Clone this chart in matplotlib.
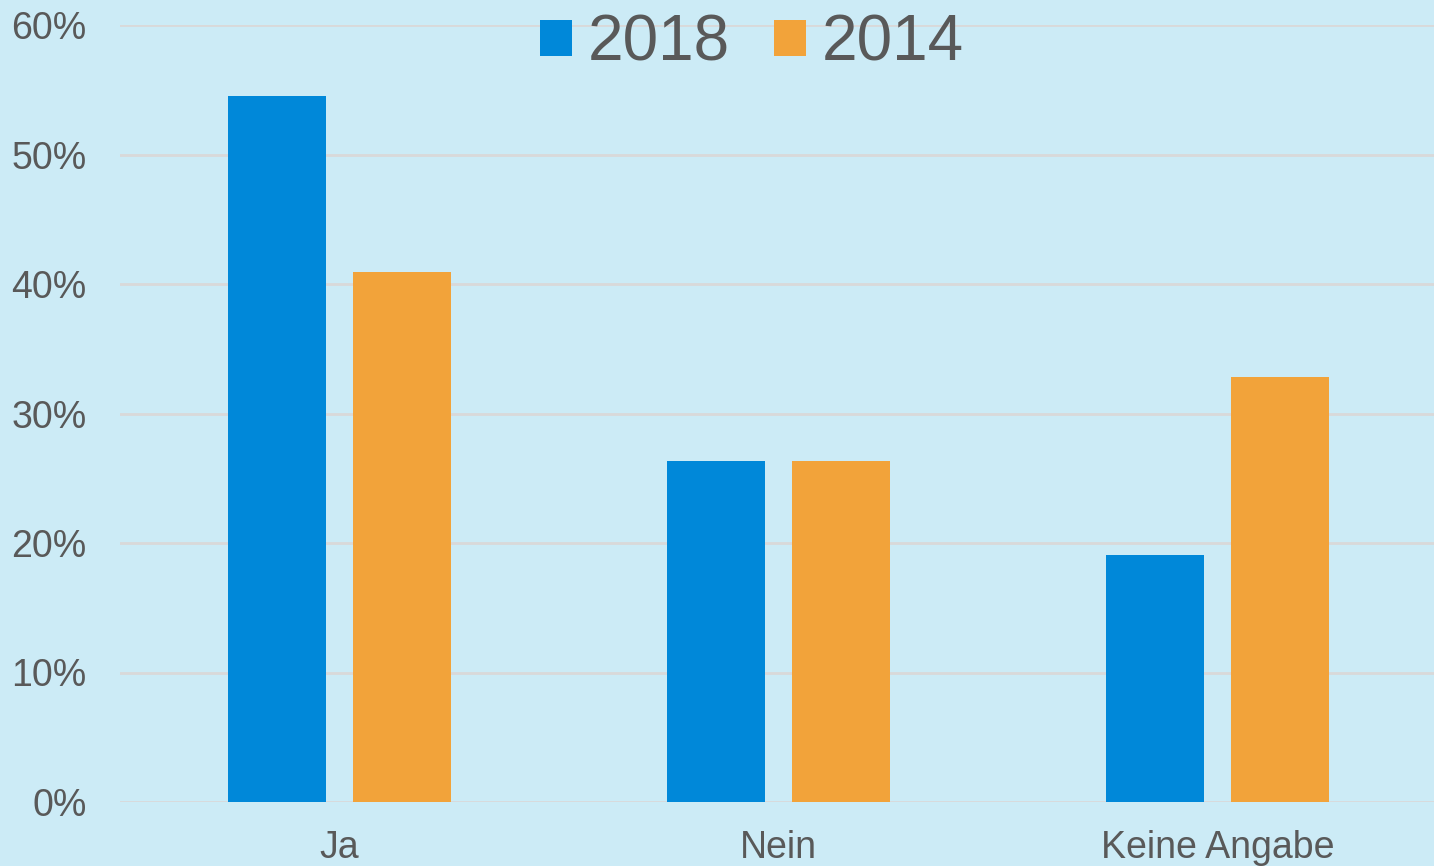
import numpy as np
import matplotlib.pyplot as plt

plt.rcParams['font.family'] = ['Liberation Sans', 'DejaVu Sans']

## Data
categories = ['Ja', 'Nein', 'Keine Angabe']
years = ['2018', '2014']
share_2018 = [54.5, 26.3, 19.1]
share_2014 = [40.9, 26.3, 32.8]

bg = '#CCEBF6'
blue = '#0088D9'
orange = '#F2A33A'
grey_txt = '#595959'

fig = plt.figure(figsize=(14.34, 8.66), dpi=100, facecolor=bg)
ax = fig.add_axes([120/1434, 1 - 802/866, 1 - 120/1434, (802 - 25)/866])
ax.set_facecolor(bg)

x = np.arange(len(categories))
w = 0.223
off = 0.142
ax.bar(x - off, share_2018, w, color=blue, label=years[0], zorder=3)
ax.bar(x + off, share_2014, w, color=orange, label=years[1], zorder=3)

ax.set_ylim(0, 60)
ax.set_xlim(-0.5, -0.5 + 1314/439)
ax.set_yticks(np.arange(0, 61, 10))
ax.set_yticklabels([f'{v}%' for v in range(0, 61, 10)])
ax.set_xticks(x)
ax.set_xticklabels(categories)

ax.grid(axis='y', color='#D9D9D9', linewidth=2, zorder=0)
for s in ax.spines.values():
    s.set_visible(False)
ax.tick_params(axis='both', length=0, labelsize=27, labelcolor=grey_txt)
ax.tick_params(axis='y', pad=24)
ax.tick_params(axis='x', pad=20)

# legend sits on top, centred over the middle group
leg = ax.legend(loc='upper center', bbox_to_anchor=(752/1434, 1 - 7/866), bbox_transform=fig.transFigure,
                ncol=2, frameon=False, fontsize=46, handlelength=0.5, handleheight=0.5,
                handletextpad=0.24, columnspacing=0.7, borderaxespad=0, borderpad=0.1)
for t in leg.get_texts():
    t.set_color(grey_txt)

fig.savefig('out.png', dpi=100, facecolor=bg)
